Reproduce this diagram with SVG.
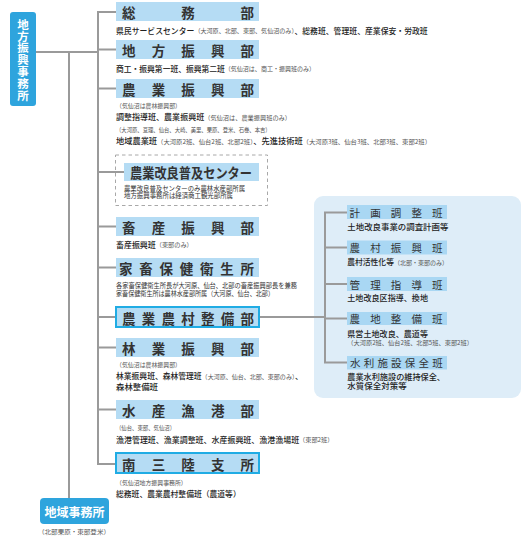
<svg xmlns="http://www.w3.org/2000/svg" width="522" height="542" viewBox="0 0 522 542">
<style>
text{font-family:"Noto Sans CJK JP","Noto Sans",sans-serif;dominant-baseline:central}
.ln{fill:none;stroke:#9a9a9a;stroke-width:2}
.hd{fill:#b5dcf4}
.hdb{fill:#b5dcf4;stroke:#20ace4;stroke-width:2}
.ht{font-size:13.5px;font-weight:bold;fill:#333}
.sh{fill:#a9d7f3}
.st{font-size:10.5px;fill:#333}
.b{font-size:8px;fill:#222;font-weight:500}
.s{font-size:6.2px;fill:#555;font-weight:normal}
.n{font-size:6.8px;fill:#333}
.wb{fill:#2ea4dd}
.wt{fill:#fff;font-weight:bold}
</style>
<rect x="314" y="196" width="207" height="202" rx="9" fill="#deedf8"/>
<g id="connectors">
<path class="ln" d="M36 52H98M69 52V498M116 12H98V464H116M98 49.5H116M98 88.5H116M98 172H124M98 226.5H116M98 267.5H116M98 317H116M98 347.5H116M98 409.5H116"/>
<path class="ln" d="M260 317H325M347 212.5H325V362.5H347M325 247.5H347M325 284H347M325 318.5H347"/>
</g>
<g id="chiho-shinko">
<rect class="wb" x="10" y="12" width="26" height="94" rx="3"/>
<text class="wt" font-size="11.5" x="23" y="60" text-anchor="middle" writing-mode="vertical-rl" letter-spacing="0.3">地方振興事務所</text>
</g>
<g id="chiiki">
<rect class="wb" x="40" y="498" width="69" height="26" rx="4"/>
<text class="wt" font-size="12" x="74.5" y="511" text-anchor="middle">地域事務所</text>
<text class="s" x="38" y="531" textLength="72" lengthAdjust="spacingAndGlyphs">（北部栗原・東部登米）</text>
</g>
<g id="somu">
<rect class="hd" x="116" y="2" width="143" height="19"/>
<text class="ht" x="122" y="12" textLength="132" lengthAdjust="spacing">総務部</text>
<text class="b" x="116" y="30" textLength="311.7" lengthAdjust="spacingAndGlyphs">県民サービスセンター<tspan class="s">（大河原、北部、東部、気仙沼のみ）</tspan>、総務班、管理班、産業保安・労政班</text>
</g>
<g id="chihoshinko-bu">
<rect class="hd" x="116" y="40" width="143" height="19"/>
<text class="ht" x="122" y="50" textLength="132" lengthAdjust="spacing">地方振興部</text>
<text class="b" x="116" y="68" textLength="199" lengthAdjust="spacingAndGlyphs">商工・振興第一班、振興第二班<tspan class="s">（気仙沼は、商工・振興班のみ）</tspan></text>
</g>
<g id="nogyo-shinko">
<rect class="hd" x="116" y="79" width="143" height="19"/>
<text class="ht" x="122" y="89" textLength="132" lengthAdjust="spacing">農業振興部</text>
<text class="s" x="116" y="105" textLength="65" lengthAdjust="spacingAndGlyphs">（気仙沼は農林振興部）</text>
<text class="b" x="116" y="116.7" textLength="175" lengthAdjust="spacingAndGlyphs">調整指導班、農業振興班<tspan class="s">（気仙沼は、農業振興班のみ）</tspan></text>
<text class="s" x="116" y="129" textLength="154.7" lengthAdjust="spacingAndGlyphs">（大河原、亘理、仙台、大崎、美里、栗原、登米、石巻、本吉）</text>
<text class="b" x="116" y="140.7" textLength="315" lengthAdjust="spacingAndGlyphs">地域農業班<tspan class="s">（大河原2班、仙台2班、北部2班）</tspan>、先進技術班<tspan class="s">（大河原3班、仙台3班、北部3班、東部2班）</tspan></text>
</g>
<g id="fukyu-center">
<rect x="115.5" y="155" width="152" height="50.5" fill="none" stroke="#a8a8a8" stroke-width="1" stroke-dasharray="3.5,3"/>
<rect class="hd" x="124" y="163" width="135" height="18"/>
<text class="ht" x="130" y="172" font-size="12.5" textLength="122" lengthAdjust="spacingAndGlyphs">農業改良普及センター</text>
<text class="n" x="124" y="187.7" textLength="121" lengthAdjust="spacingAndGlyphs">農業改良普及センターのみ農林水産部所属</text>
<text class="n" x="124" y="195" textLength="109" lengthAdjust="spacingAndGlyphs">地方振興事務所は経済商工観光部所属</text>
</g>
<g id="chikusan">
<rect class="hd" x="116" y="217" width="143" height="19"/>
<text class="ht" x="122" y="227" textLength="132" lengthAdjust="spacing">畜産振興部</text>
<text class="b" x="116" y="244" textLength="76.7" lengthAdjust="spacingAndGlyphs">畜産振興班<tspan class="s">（東部のみ）</tspan></text>
</g>
<g id="kachiku">
<rect class="hd" x="116" y="258" width="143" height="19"/>
<text class="ht" x="119" y="268" textLength="135" lengthAdjust="spacing">家畜保健衛生所</text>
<text class="n" x="116" y="285" textLength="181" lengthAdjust="spacingAndGlyphs">各家畜保健衛生所長が大河原、仙台、北部の畜産振興部長を兼務</text>
<text class="n" x="116" y="292.5" textLength="158" lengthAdjust="spacingAndGlyphs">家畜保健衛生所は農林水産部所属（大河原、仙台、北部）</text>
</g>
<g id="noson-seibi">
<rect class="hdb" x="116" y="307" width="143" height="20"/>
<text class="ht" x="122" y="317.5" textLength="132" lengthAdjust="spacing">農業農村整備部</text>
</g>
<g id="keikaku">
<rect class="sh" x="347" y="205" width="100" height="14"/>
<text class="st" x="349.5" y="212.5" textLength="93" lengthAdjust="spacing">計画調整班</text>
<text class="b" x="347.3" y="226" textLength="101" lengthAdjust="spacingAndGlyphs">土地改良事業の調査計画等</text>
</g>
<g id="noson-shinko">
<rect class="sh" x="347" y="240.5" width="100" height="14"/>
<text class="st" x="349.5" y="247.5" textLength="93" lengthAdjust="spacing">農村振興班</text>
<text class="b" x="347.3" y="261.7" textLength="100.7" lengthAdjust="spacingAndGlyphs">農村活性化等<tspan class="s">（北部・東部のみ）</tspan></text>
</g>
<g id="kanri">
<rect class="sh" x="347" y="277" width="100" height="14"/>
<text class="st" x="349.5" y="284" textLength="93" lengthAdjust="spacing">管理指導班</text>
<text class="b" x="347.3" y="297.3" textLength="80.7" lengthAdjust="spacingAndGlyphs">土地改良区指導、換地</text>
</g>
<g id="nochi">
<rect class="sh" x="347" y="312" width="100" height="13"/>
<text class="st" x="349.5" y="318.5" textLength="93" lengthAdjust="spacing">農地整備班</text>
<text class="b" x="347.3" y="333.3" textLength="80.7" lengthAdjust="spacingAndGlyphs">県営土地改良、農道等</text>
<text class="s" x="347.3" y="342.3" textLength="125.7" lengthAdjust="spacingAndGlyphs">（大河原2班、仙台2班、北部5班、東部2班）</text>
</g>
<g id="suiri">
<rect class="sh" x="347" y="356" width="100" height="13.5"/>
<text class="st" x="350" y="362.8" textLength="92.7" lengthAdjust="spacing">水利施設保全班</text>
<text class="b" x="347.3" y="376.7" textLength="97.7" lengthAdjust="spacingAndGlyphs">農業水利施設の維持保全、</text>
<text class="b" x="347.3" y="385.7" textLength="59.4" lengthAdjust="spacingAndGlyphs">水質保全対策等</text>
</g>
<g id="ringyo">
<rect class="hd" x="116" y="338" width="143" height="19"/>
<text class="ht" x="122" y="348" textLength="132" lengthAdjust="spacing">林業振興部</text>
<text class="s" x="116" y="364.3" textLength="65" lengthAdjust="spacingAndGlyphs">（気仙沼は農林振興部）</text>
<text class="b" x="116" y="375.7" textLength="186.7" lengthAdjust="spacingAndGlyphs">林業振興班、森林管理班<tspan class="s">（大河原、仙台、北部、東部のみ）</tspan>、</text>
<text class="b" x="116" y="386" textLength="42" lengthAdjust="spacingAndGlyphs">森林整備班</text>
</g>
<g id="suisan">
<rect class="hd" x="116" y="400" width="143" height="19"/>
<text class="ht" x="122" y="410" textLength="132" lengthAdjust="spacing">水産漁港部</text>
<text class="s" x="116" y="427.7" textLength="59" lengthAdjust="spacingAndGlyphs">（仙台、東部、気仙沼）</text>
<text class="b" x="116" y="439" textLength="217.3" lengthAdjust="spacingAndGlyphs">漁港管理班、漁業調整班、水産振興班、漁港漁場班<tspan class="s">（東部2班）</tspan></text>
</g>
<g id="minamisanriku">
<rect class="hdb" x="116" y="453" width="143" height="20"/>
<text class="ht" x="122" y="463.5" textLength="132" lengthAdjust="spacing">南三陸支所</text>
<text class="s" x="116" y="482.3" textLength="70.7" lengthAdjust="spacingAndGlyphs">（気仙沼地方振興事務所）</text>
<text class="b" x="116" y="493.3" textLength="124.7" lengthAdjust="spacingAndGlyphs">総務班、農業農村整備班（農道等）</text>
</g>
</svg>
